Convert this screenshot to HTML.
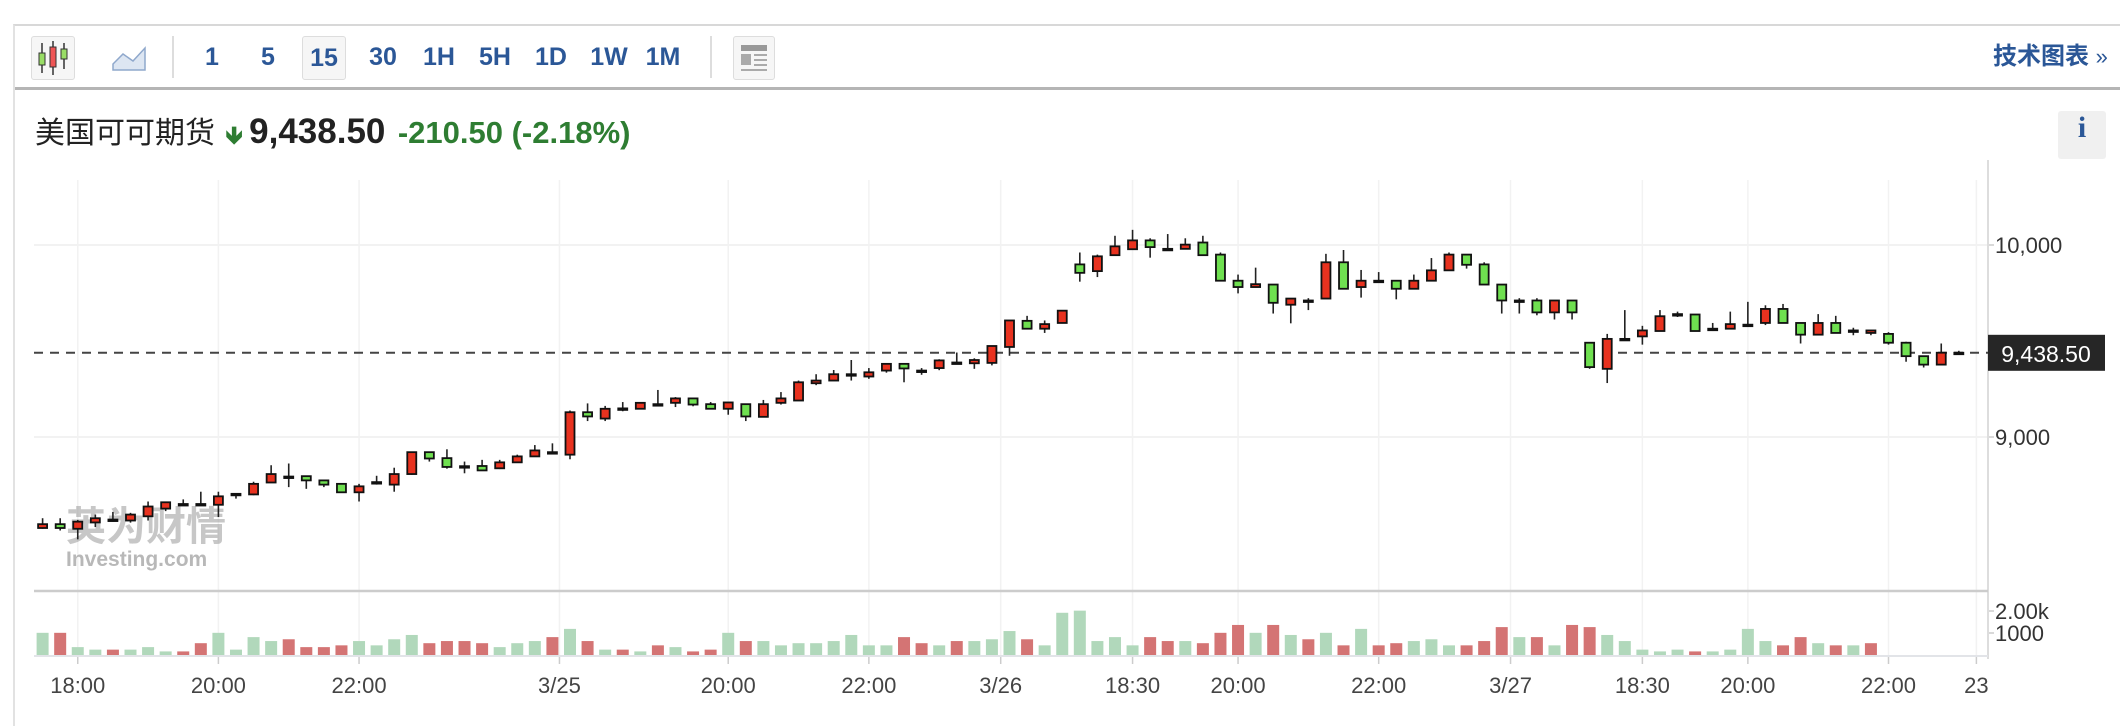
<!DOCTYPE html>
<html><head><meta charset="utf-8">
<style>
html,body{margin:0;padding:0;background:#fff;width:2120px;height:714px;overflow:hidden;font-family:"Liberation Sans","Noto Sans CJK SC",sans-serif;}
#wrap{position:absolute;left:13px;top:24px;width:2120px;height:700px;border-top:2px solid #d8d8d8;border-left:2px solid #e2e2e2;}
#toolbar{position:absolute;left:0;top:0;width:2110px;height:61px;border-bottom:3px solid #b5b5b5;}
.tb{position:absolute;top:10px;height:42px;line-height:42px;color:#2b5797;font-weight:bold;font-size:25px;text-align:center;}
.box{border:1px solid #ddd;border-radius:3px;background:#f6f6f6;}
.sep{position:absolute;top:10px;width:2px;height:42px;background:#ddd;}
#title{position:absolute;left:20px;top:85px;height:42px;line-height:42px;white-space:nowrap;}
svg{position:absolute;left:0;top:0;}
</style></head><body>
<div id="wrap">
 <div id="toolbar">
  <div class="tb box" style="left:16px;width:42px;">
   <svg width="42" height="42" viewBox="0 0 42 42" style="position:static"><line x1="10" y1="6" x2="10" y2="36" stroke="#333" stroke-width="1.5"/><rect x="7" y="16" width="6" height="12" fill="#9d6" stroke="#333"/><line x1="21" y1="4" x2="21" y2="38" stroke="#333" stroke-width="1.5"/><rect x="18" y="10" width="6" height="20" fill="#e55" stroke="#333"/><line x1="32" y1="6" x2="32" y2="32" stroke="#333" stroke-width="1.5"/><rect x="29" y="12" width="6" height="10" fill="#9d6" stroke="#333"/></svg>
  </div>
  <div class="tb" style="left:96px;width:36px;">
   <svg width="36" height="42" viewBox="0 0 36 42" style="position:static"><path d="M2 28 L12 18 L22 25 L34 12 L34 34 L2 34 Z" fill="#dde6f2" stroke="#8fa8cc" stroke-width="1.5"/></svg>
  </div>
  <div class="sep" style="left:157px"></div>
  <div class="tb" style="left:185px;width:24px;">1</div>
  <div class="tb" style="left:241px;width:24px;">5</div>
  <div class="tb box" style="left:287px;width:42px;">15</div>
  <div class="tb" style="left:348px;width:40px;">30</div>
  <div class="tb" style="left:404px;width:40px;">1H</div>
  <div class="tb" style="left:460px;width:40px;">5H</div>
  <div class="tb" style="left:516px;width:40px;">1D</div>
  <div class="tb" style="left:572px;width:44px;">1W</div>
  <div class="tb" style="left:626px;width:44px;">1M</div>
  <div class="sep" style="left:695px"></div>
  <div class="tb box" style="left:718px;width:40px;">
   <svg width="40" height="42" viewBox="0 0 40 42" style="position:static"><rect x="7" y="8" width="26" height="6" fill="#999"/><rect x="7" y="17" width="10" height="11" fill="#aaa"/><rect x="20" y="17" width="13" height="2" fill="#aaa"/><rect x="20" y="22" width="13" height="2" fill="#aaa"/><rect x="20" y="27" width="13" height="2" fill="#aaa"/><rect x="7" y="32" width="26" height="2" fill="#aaa"/></svg>
  </div>
  <div class="tb" style="left:1978px;width:125px;font-weight:bold;font-size:24px;text-align:left;font-family:'Liberation Sans','Noto Sans CJK SC',sans-serif;">技术图表 <span style="font-size:22px;font-weight:normal">»</span></div>
 </div>
 <div id="title">
  <span style="font-size:30px;color:#222;">美国可可期货</span>
  <span style="font-size:24px;color:#2e7d32;font-weight:bold;margin-left:6px;">&#x1F87B;</span>
  <span style="font-size:35px;font-weight:bold;color:#222;margin-left:2px;">9,438.50</span>
  <span style="font-size:31px;font-weight:bold;color:#2e7d32;margin-left:8px;">-210.50 (-2.18%)</span>
 </div>
 <div class="box" style="position:absolute;left:2043px;top:85px;width:48px;height:48px;line-height:48px;text-align:center;color:#2b5797;font:bold 30px 'Liberation Serif',serif;border:none;background:#f0f0f0;">i</div>
</div>
<svg id="chart" width="2120" height="714"></svg>
<script>
const opens=[8526,8546,8522,8555,8570,8565,8587,8627,8651,8651,8647,8704,8701,8763,8794,8796,8774,8756,8712,8765,8752,8807,8921,8890,8848,8849,8837,8868,8899,8921,8908,9129,9096,9149,9147,9171,9178,9201,9171,9147,9171,9105,9178,9190,9280,9294,9327,9315,9346,9381,9346,9359,9388,9384,9386,9469,9605,9564,9594,9899,9864,9947,9978,10024,9980,9980,10013,9950,9814,9781,9794,9689,9711,9721,9910,9781,9814,9814,9772,9814,9868,9950,9899,9794,9711,9711,9649,9711,9491,9355,9511,9524,9552,9640,9638,9564,9564,9585,9594,9667,9594,9533,9594,9555,9542,9537,9491,9421,9377,9439];
const highs=[8577,8577,8568,8596,8610,8605,8664,8664,8675,8715,8715,8704,8767,8853,8862,8796,8774,8756,8756,8798,8840,8921,8921,8936,8872,8881,8881,8908,8958,8967,9138,9175,9162,9182,9182,9245,9208,9201,9182,9180,9171,9193,9234,9294,9327,9349,9401,9359,9381,9381,9359,9405,9440,9410,9474,9607,9631,9607,9661,9961,9950,10048,10079,10035,10057,10035,10048,9961,9846,9882,9794,9721,9723,9954,9974,9870,9859,9814,9846,9932,9961,9950,9910,9794,9723,9723,9711,9711,9491,9537,9661,9579,9661,9653,9638,9594,9653,9704,9686,9693,9594,9640,9631,9569,9555,9546,9496,9421,9487,9449];
const lows=[8522,8513,8467,8531,8559,8554,8565,8614,8645,8645,8583,8679,8697,8763,8739,8730,8739,8712,8664,8752,8715,8803,8872,8835,8811,8826,8833,8866,8899,8921,8884,9083,9083,9134,9147,9171,9156,9160,9147,9116,9083,9105,9169,9190,9270,9294,9294,9303,9335,9285,9324,9348,9388,9355,9373,9423,9564,9542,9594,9809,9833,9947,9978,9934,9980,9980,9947,9814,9748,9781,9643,9592,9661,9721,9772,9726,9814,9717,9772,9814,9868,9877,9794,9643,9643,9634,9612,9612,9355,9281,9502,9481,9552,9625,9552,9552,9564,9575,9583,9594,9487,9533,9542,9530,9530,9481,9392,9362,9377,9438];
const closes=[8546,8526,8559,8577,8568,8596,8638,8660,8651,8651,8691,8704,8756,8807,8794,8774,8752,8712,8743,8765,8807,8921,8888,8844,8848,8826,8868,8899,8930,8921,9129,9107,9147,9149,9178,9171,9201,9169,9147,9180,9107,9171,9201,9285,9294,9327,9327,9337,9381,9357,9346,9399,9388,9401,9474,9607,9564,9588,9658,9855,9941,9993,10024,9989,9980,10002,9947,9814,9781,9796,9699,9721,9711,9910,9772,9814,9814,9772,9814,9868,9950,9897,9794,9711,9711,9649,9711,9649,9364,9511,9511,9555,9629,9640,9552,9564,9588,9585,9667,9594,9533,9594,9542,9555,9555,9491,9421,9377,9439,9439];
const volumes=[1008,1008,358,244,244,244,358,163,163,537,1008,244,813,634,715,358,358,439,634,439,715,911,537,634,634,537,358,537,634,813,1187,634,244,244,163,439,358,163,244,1008,634,634,439,537,537,634,911,439,439,813,537,439,634,634,715,1089,715,439,1919,2016,634,813,439,813,634,634,537,1008,1366,1008,1366,911,715,1008,439,1187,439,537,634,715,439,439,634,1268,813,813,439,1366,1268,911,634,244,163,244,163,163,244,1187,634,439,813,537,439,439,537];
const volumeUp=[1,0,1,1,0,1,1,1,0,0,1,1,1,1,0,0,0,0,1,1,1,1,0,0,0,0,1,1,1,0,1,0,1,0,1,0,1,0,0,1,0,1,1,1,1,1,1,1,1,0,0,1,0,1,1,1,0,1,1,1,1,1,1,0,0,1,0,0,0,1,0,1,0,1,0,1,0,0,1,1,1,0,0,0,1,0,1,0,0,1,1,1,1,1,0,1,1,1,1,0,0,1,0,1,0];
const tickLabels=["18:00","20:00","22:00","3/25","20:00","22:00","3/26","18:30","20:00","22:00","3/27","18:30","20:00","22:00","23"];
const tickIndex=[2,10,18,29.4,39,47,54.5,62,68,76,83.5,91,97,105,110];
const priceTicks=[10000,9000];
const priceTickLabels=["10,000","9,000"];
const volTicks=[2000,1000];
const volTickLabels=["2.00k","1000"];
const lastPrice=9438.5;
const lastPriceLabel="9,438.50";

const svg=document.getElementById('chart');
const NS='http://www.w3.org/2000/svg';
const L=34,R=1988,TOP=180,SEP=591,VB=655;
const xOf=i=>42.6+i*17.58;
const yOf=p=>245+(10000-p)*0.192;
const vOf=v=>VB-v*0.022;
function mk(tag,attrs,parent){const e=document.createElementNS(NS,tag);for(const k in attrs)e.setAttribute(k,attrs[k]);(parent||svg).appendChild(e);return e;}

tickIndex.forEach((ti,k)=>{
  const x=xOf(ti);
  if(x<R){
    const g=mk('line',{x1:x,y1:TOP,x2:x,y2:VB,stroke:'#f2f2f2','stroke-width':1.5});
    
    
    const t=mk('line',{x1:x,y1:VB,x2:x,y2:664,stroke:'#ccc','stroke-width':1.5});
    
    
  }
  const lb=mk('text',{x:x,y:693,'text-anchor':'middle','font-size':22,fill:'#444','font-family':'Liberation Sans, sans-serif'});
  lb.textContent=tickLabels[k];
  
  
});
priceTicks.forEach((p,k)=>{
  const y=yOf(p);
  const g=mk('line',{x1:L,y1:y,x2:R,y2:y,stroke:'#f2f2f2','stroke-width':2});
  
  
  mk('line',{x1:R,y1:y,x2:R+6,y2:y,stroke:'#ccc','stroke-width':1.5});
  const t=mk('text',{x:R+7,y:y+8,'font-size':22,fill:'#333','font-family':'Liberation Sans, sans-serif'});
  t.textContent=priceTickLabels[k];
  
  
});
volTicks.forEach((v,k)=>{
  const y=vOf(v);
  mk('line',{x1:R,y1:y,x2:R+6,y2:y,stroke:'#ccc','stroke-width':1.5});
  const t=mk('text',{x:R+7,y:y+8,'font-size':22,fill:'#333','font-family':'Liberation Sans, sans-serif'});
  t.textContent=volTickLabels[k];
  
  
});
const wm=mk('text',{x:66,y:540,'font-size':40,'font-weight':'bold',fill:'#999','fill-opacity':0.55,'font-family':'Noto Sans CJK SC, sans-serif'});
wm.textContent='英为财情';


const wm2=mk('text',{x:66,y:566,'font-size':21,'font-weight':'bold',fill:'#888','fill-opacity':0.6,'font-family':'Liberation Sans, sans-serif'});
wm2.textContent='Investing.com';


mk('line',{x1:R,y1:TOP-20,x2:R,y2:VB+4,stroke:'#ddd','stroke-width':2});
mk('line',{x1:L,y1:SEP,x2:R,y2:SEP,stroke:'#ccc','stroke-width':2.5});
mk('line',{x1:L,y1:VB+1,x2:R,y2:VB+1,stroke:'#e2e4e8','stroke-width':2});
volumes.forEach((v,i)=>{
  const x=xOf(i);
  const b=mk('rect',{x:x-6,y:vOf(v),width:12,height:VB-vOf(v),fill:volumeUp[i]?'#b1d8bb':'#d47474'});
  
  
});
const yl=yOf(lastPrice);
const dl=mk('line',{x1:L,y1:yl,x2:R,y2:yl,stroke:'#444','stroke-width':2,'stroke-dasharray':'9 7'});


opens.forEach((o,i)=>{
  const x=xOf(i),c=closes[i];
  const w=mk('line',{x1:x,y1:yOf(highs[i]),x2:x,y2:yOf(lows[i]),stroke:'#222','stroke-width':1.6});
  
  
  const top=yOf(Math.max(o,c)),bot=yOf(Math.min(o,c));
  const h=Math.max(bot-top,1.5);
  const b=mk('rect',{x:x-4.5,y:top,width:9,height:h,fill:c>o?'#e8321f':(c<o?'#6fe050':'#222'),stroke:'#111','stroke-width':1.8});
  
  
});
const lbx=mk('rect',{x:R,y:yl-18,width:117,height:36,fill:'#262626'});


const lt=mk('text',{x:R+58,y:yl+9,'text-anchor':'middle','font-size':23,fill:'#fff','font-family':'Liberation Sans, sans-serif'});
lt.textContent=lastPriceLabel;


</script>
</body></html>
